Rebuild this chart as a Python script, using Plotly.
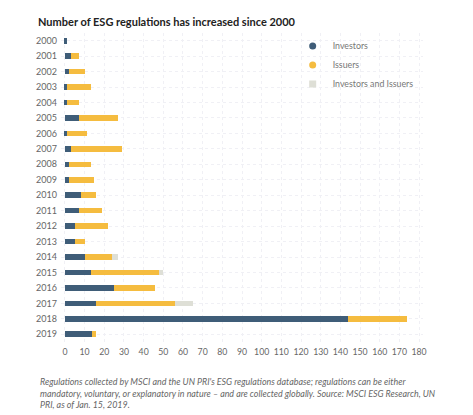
import plotly.graph_objects as go

# Data
years = [str(y) for y in range(2000, 2020)]
investors = [1, 3, 2, 1, 1, 7, 1, 3, 2, 2, 8, 7, 5, 5, 10, 13, 25, 16, 144, 14]
issuers = [0, 4, 8, 12, 6, 20, 10, 26, 11, 13, 8, 12, 17, 5, 14, 35, 21, 40, 30, 2]
both = [0, 0, 0, 0, 0, 0, 0, 0, 0, 0, 0, 0, 0, 0, 3, 2, 0, 9, 0, 0]

c_inv = "#3f5d78"
c_iss = "#f5bc3f"
c_both = "#dedfd6"

fig = go.Figure()
for name, vals, col in [("Investors", investors, c_inv),
                        ("Issuers", issuers, c_iss),
                        ("Investors and Issuers", both, c_both)]:
    fig.add_trace(go.Bar(y=years, x=vals, orientation="h", marker_color=col,
                         marker_line_width=0, width=0.36, showlegend=False))

# legend entries (circle / square symbols like the original)
for name, col, sym in [("Investors", c_inv, "circle"),
                       ("Issuers", c_iss, "circle"),
                       ("Investors and Issuers", c_both, "square")]:
    fig.add_trace(go.Scatter(x=[None], y=[None], mode="markers", name=name,
                             marker=dict(color=col, size=7, symbol=sym)))

# the page adds an 8px body margin, so everything is laid out 8px up/left
fig.update_layout(
    width=473, height=415,
    margin=dict(l=53, r=58, t=25, b=81),
    barmode="stack",
    plot_bgcolor="white", paper_bgcolor="white",
    font=dict(family="Lato, sans-serif", size=9, color="#666666"),
    title=dict(text="<b>Number of ESG regulations has increased since 2000</b>",
               x=30 / 473, xanchor="left", y=1 - 14 / 415, yanchor="middle",
               font=dict(size=11, color="#222222")),
    legend=dict(x=0.64, y=1.005, xanchor="left", yanchor="top",
                traceorder="normal",
                font=dict(size=8.8, color="#777777"), bgcolor="rgba(0,0,0,0)",
                itemwidth=30, tracegroupgap=0),
    xaxis=dict(range=[-2, 182], dtick=10, tick0=0, showgrid=True,
               gridcolor="#f0f0f5", griddash="dot", zeroline=False,
               showline=False, ticks="", ticklabelstandoff=3,
               tickfont=dict(size=8.7, color="#666666")),
    yaxis=dict(autorange="reversed", showgrid=True, gridcolor="#f0f0f5",
               griddash="dot", ticks="", ticklabelstandoff=3,
               tickfont=dict(size=9, color="#666666")),
)

fig.add_annotation(
    text="<i>Regulations collected by MSCI and the UN PRI's ESG regulations database; regulations can be either<br>"
         "mandatory, voluntary, or explanatory in nature \u2013 and are collected globally. Source: MSCI ESG Research, UN<br>"
         "PRI, as of Jan. 15, 2019.</i>",
    xref="paper", yref="paper", x=-0.0635, y=-0.104, xanchor="left", yanchor="top",
    align="left", showarrow=False, font=dict(size=8.9, color="#666666"))

fig.write_html("out.html")
